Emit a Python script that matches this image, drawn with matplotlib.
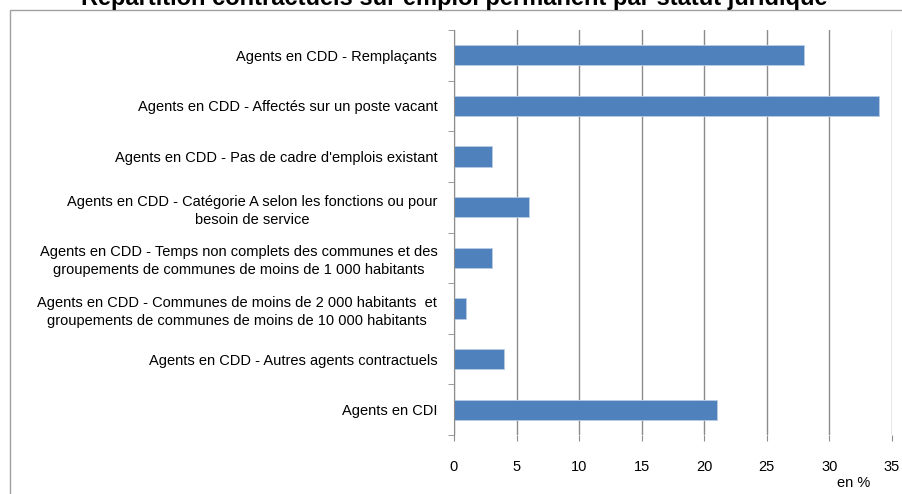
import matplotlib
matplotlib.use("Agg")
import matplotlib.pyplot as plt
import matplotlib.patches as mpatches
import numpy as np

categories = [
    "Agents en CDD - Remplaçants",
    "Agents en CDD - Affectés sur un poste vacant",
    "Agents en CDD - Pas de cadre d'emplois existant",
    "Agents en CDD - Catégorie A selon les fonctions ou pour\nbesoin de service",
    "Agents en CDD - Temps non complets des communes et des\ngroupements de communes de moins de 1 000 habitants",
    "Agents en CDD - Communes de moins de 2 000 habitants  et\ngroupements de communes de moins de 10 000 habitants",
    "Agents en CDD - Autres agents contractuels",
    "Agents en CDI",
]
values = [28, 34, 3, 6, 3, 1, 4, 21]
xticks = [0, 5, 10, 15, 20, 25, 30, 35]

title = "Répartition contractuels sur emploi permanent par statut juridique"
unit = "en %"

plt.rcParams['font.family'] = ['Liberation Sans', 'DejaVu Sans']

fig = plt.figure(figsize=(9.02, 4.94), dpi=100)
ax = fig.add_axes([0.5033, 0.1194, 0.4856, 0.8199])

grid_col = '#8c8c8c'
y = np.arange(len(categories))
ax.barh(y, values, height=0.4, color='#4F81BD', edgecolor='#b8cce4', linewidth=0.6, zorder=3)

ax.set_xlim(0, 35)
ax.set_ylim(len(categories) - 0.5, -0.5)
ax.set_xticks(xticks)
ax.set_xticklabels([str(t) for t in xticks], fontsize=10.5)
ax.set_yticks(y)
ax.set_yticklabels(categories, fontsize=10.5, linespacing=1.35, ha='right',
                   multialignment='center')
ax.set_yticks(np.arange(-0.5, len(categories) + 0.5, 1), minor=True)

ax.tick_params(axis='y', which='major', length=0, pad=12)
ax.tick_params(axis='y', which='minor', length=4, color=grid_col, direction='out')
ax.tick_params(axis='x', length=4, color=grid_col, pad=14)

ax.grid(axis='x', color=grid_col, linewidth=1, zorder=0)
for side in ['top', 'right', 'bottom']:
    ax.spines[side].set_visible(False)
ax.spines['left'].set_color(grid_col)
ax.spines['left'].set_zorder(4)

fig.text(0.965, 0.014, unit, fontsize=10.5, ha='right', va='baseline')

fig.text(0.504, 1 - 5 / 494, title, fontsize=17, fontweight='bold', ha='center', va='baseline')

frame = mpatches.Rectangle((10 / 902, -0.05), 1.0, 1 - 10 / 494 + 0.05,
                           transform=fig.transFigure, fill=False,
                           edgecolor='#a0a0a0', linewidth=1, clip_on=False)
fig.patches.append(frame)

fig.savefig("out.png", dpi=100)
